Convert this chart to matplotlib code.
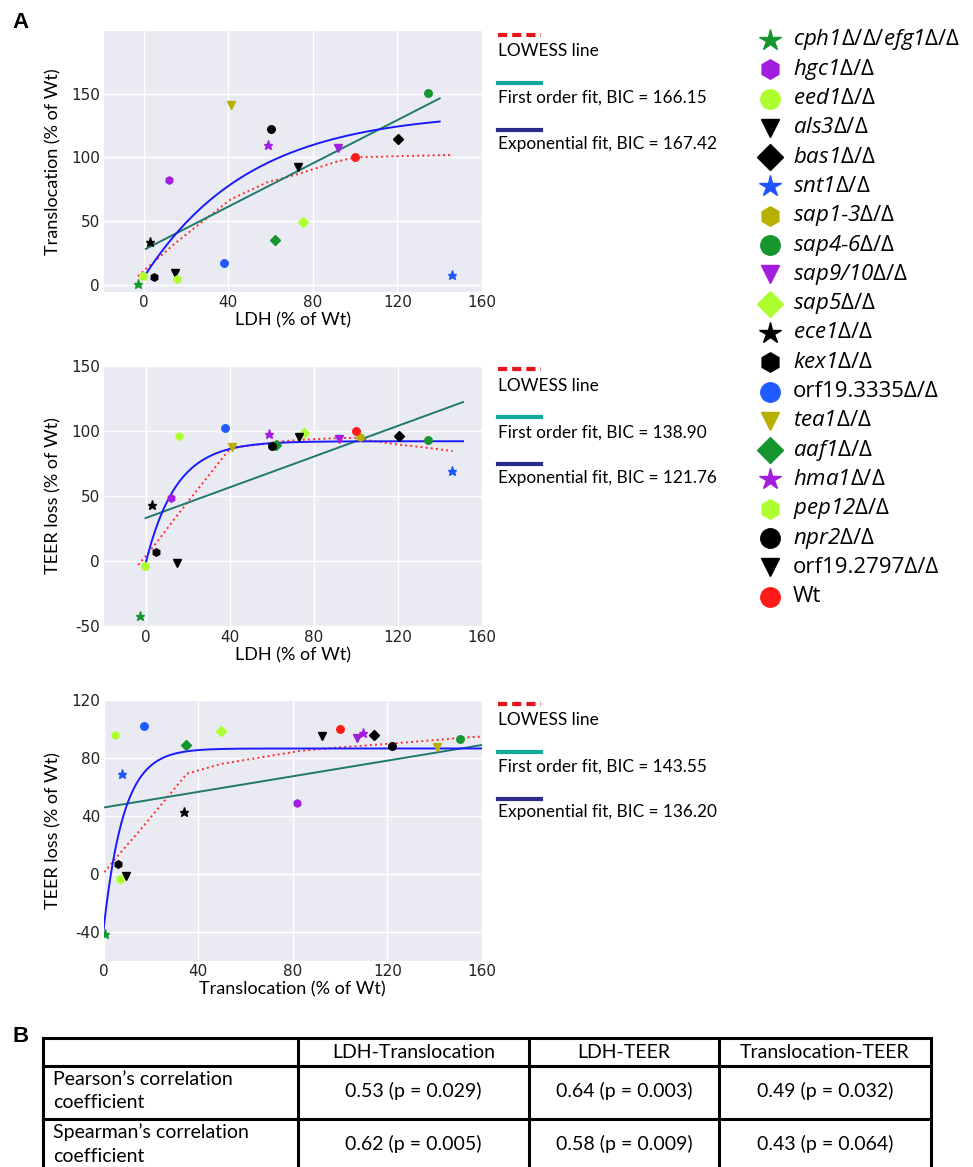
import numpy as np
import matplotlib
matplotlib.use('Agg')
import matplotlib.pyplot as plt
from matplotlib.lines import Line2D

plt.rcParams['font.family'] = ['Lato', 'DejaVu Sans']
plt.rcParams['axes.unicode_minus'] = False
plt.rcParams['mathtext.fontset'] = 'custom'
plt.rcParams['mathtext.rm'] = 'Open Sans'
plt.rcParams['mathtext.sf'] = 'Open Sans:italic'
plt.rcParams['mathtext.it'] = 'Open Sans:italic'

# strains and their measurements (% of Wt)
strain_labels = [
    r'$\mathsf{cph1}$Δ/Δ/$\mathsf{efg1}$Δ/Δ', r'$\mathsf{hgc1}$Δ/Δ', r'$\mathsf{eed1}$Δ/Δ',
    r'$\mathsf{als3}$Δ/Δ', r'$\mathsf{bas1}$Δ/Δ', r'$\mathsf{snt1}$Δ/Δ', r'$\mathsf{sap1‐3}$Δ/Δ',
    r'$\mathsf{sap4‐6}$Δ/Δ', r'$\mathsf{sap9/10}$Δ/Δ', r'$\mathsf{sap5}$Δ/Δ',
    r'$\mathsf{ece1}$Δ/Δ', r'$\mathsf{kex1}$Δ/Δ', 'orf19.3335Δ/Δ', r'$\mathsf{tea1}$Δ/Δ',
    r'$\mathsf{aaf1}$Δ/Δ', r'$\mathsf{hma1}$Δ/Δ', r'$\mathsf{pep12}$Δ/Δ', r'$\mathsf{npr2}$Δ/Δ',
    'orf19.2797Δ/Δ', 'Wt']
ldh = [-2.7, 12.0, -0.5, 15.0, 120.5, 145.8, 102.0, 134.4, 92.0, 75.4,
       3.2, 4.9, 38.0, 41.3, 62.0, 58.8, 15.8, 60.2, 73.2, 100.0]
translocation = [0.5, 82.0, 7.0, 9.4, 114.5, 8.0, 210.0, 150.5, 107.0, 49.5,
                 34.0, 6.0, 17.3, 140.8, 35.0, 109.5, 5.0, 122.0, 92.5, 100.0]
teer = [-42.0, 48.5, -3.8, -1.8, 96.0, 69.0, 95.0, 93.3, 94.0, 98.3,
        42.8, 7.0, 102.0, 87.3, 89.0, 97.3, 96.0, 88.0, 95.0, 100.0]

# style per strain
markers = ['*', 'h', 'o', 'v', 'D', '*', 'h', 'o', 'v', 'D',
           '*', 'h', 'o', 'v', 'D', '*', 'h', 'o', 'v', 'o']
colors = ['#16962f', '#a21de0', '#adff2f', 'black', 'black', '#1f55ff', '#b8b000', '#16962f',
          '#a21de0', '#adff2f', 'black', 'black', '#1f5bff', '#b8b000', '#16962f', '#a21de0',
          '#adff2f', 'black', 'black', '#ff1a1a']

# LOWESS curves
low1_x = [-2.7, 15, 38, 41, 59, 62, 73, 92, 100, 121, 134, 146]
low1_y = [7, 33, 63, 67, 81, 82, 87, 97, 100, 101, 101.5, 102]
low2_x = [-3.5, 3, 11, 15, 38, 41, 59, 62, 73, 92, 100, 102, 120, 134, 146]
low2_y = [-3, 9.5, 26.5, 35, 82, 87, 90.5, 91.5, 93, 94.5, 94.5, 93.5, 89.5, 87, 84.5]
low3_x = [0.3, 8, 17.5, 35.2, 49.6, 83, 100, 122.6, 141.6, 152, 165]
low3_y = [1, 16, 34, 69, 75.8, 84.8, 87.3, 90, 92.5, 94, 95.2]

# first order fits (intercept, slope, x range) and exponential fits a - b*exp(-c x)
lin_fits = [(27.5, 0.848, (1, 140)), (33.0, 0.59, (0, 151)), (45.7, 0.27, (0, 160))]
exp_fits = [(136, 130, 0.02, (1, 140)), (92, 94, 0.069, (0, 151)), (86.5, 125.5, 0.118, (0, 160))]
bic_linear = ['166.15', '138.90', '143.55']
bic_exp = ['167.42', '121.76', '136.20']

# table B
table_cols = ['', 'LDH-Translocation', 'LDH-TEER', 'Translocation-TEER']
table_rows = ['Pearson’s correlation\ncoefficient', 'Spearman’s correlation\ncoefficient']
table_vals = [['0.53 (p = 0.029)', '0.64 (p = 0.003)', '0.49 (p = 0.032)'],
              ['0.62 (p = 0.005)', '0.58 (p = 0.009)', '0.43 (p = 0.064)']]

W, H = 973, 1167
fig = plt.figure(figsize=(W / 100, H / 100), dpi=100)


def fx(x):
    return x / W


def fy(y):
    return 1 - y / H


data_ms = {'o': 5.4, 'h': 5.4, '*': 6.5, 'v': 5.8, 'D': 5.2}
leg_ms = {'o': 14, 'h': 14, '*': 16, 'v': 13, 'D': 13}

panels = [
    dict(top=31, x=ldh, y=translocation, xlim=(-19, 160), ylim=(-5, 199),
         yticks=[0, 50, 100, 150], xlabel='LDH (% of Wt)', ylabel='Translocation (% of Wt)',
         lx=low1_x, ly=low1_y),
    dict(top=365.7, x=ldh, y=teer, xlim=(-20, 160), ylim=(-50, 150),
         yticks=[-50, 0, 50, 100, 150], xlabel='LDH (% of Wt)', ylabel='TEER loss (% of Wt)',
         lx=low2_x, ly=low2_y),
    dict(top=700, x=translocation, y=teer, xlim=(0, 160), ylim=(-60, 120),
         yticks=[-40, 0, 40, 80, 120], xlabel='Translocation (% of Wt)', ylabel='TEER loss (% of Wt)',
         lx=low3_x, ly=low3_y),
]

for i, p in enumerate(panels):
    ax = fig.add_axes([fx(103.5), fy(p['top'] + 260.5), fx(378.5), 260.5 / H])
    ax.set_facecolor('#eaeaf2')
    for s in ax.spines.values():
        s.set_visible(False)
    ax.grid(True, color='white', lw=1.0)
    ax.set_axisbelow(True)
    ax.tick_params(length=0, labelsize=11, colors='#222222', pad=2.5)

    ax.plot(p['lx'], p['ly'], ':', color='#ff2a2a', lw=1.4, zorder=2)
    b0, m, (x0, x1) = lin_fits[i]
    xs = np.linspace(x0, x1, 50)
    ax.plot(xs, b0 + m * xs, color='#21786c', lw=1.4, zorder=2)
    a, b, c, (x0, x1) = exp_fits[i]
    xs = np.linspace(x0, x1, 300)
    ax.plot(xs, a - b * np.exp(-c * xs), color='#1a1aff', lw=1.4, zorder=2)

    for xv, yv, mk, col in zip(p['x'], p['y'], markers, colors):
        ax.plot(xv, yv, marker=mk, color=col, ms=data_ms[mk], ls='none', zorder=3)

    ax.set_xlim(p['xlim'])
    ax.set_ylim(p['ylim'])
    ax.set_xticks([0, 40, 80, 120, 160])
    ax.set_yticks(p['yticks'])
    for lab in ax.get_xticklabels() + ax.get_yticklabels():
        lab.set_family('DejaVu Sans')
    ax.set_xlabel(p['xlabel'], fontsize=13, labelpad=2)
    ax.set_ylabel(p['ylabel'], fontsize=13, labelpad=7)

    # fit legend to the right of the panel
    t = p['top']
    fig.add_artist(Line2D([fx(498), fx(541)], [fy(t + 3.5)] * 2, color='#e8141c', lw=3,
                          dashes=(2.2, 1.2), transform=fig.transFigure))
    fig.text(fx(498), fy(t + 20), 'LOWESS line', fontsize=12.4, va='center')
    fig.add_artist(Line2D([fx(498), fx(541)], [fy(t + 51.5)] * 2, color='#14a89a', lw=3,
                          transform=fig.transFigure))
    fig.text(fx(498), fy(t + 66.5), 'First order fit, BIC = ' + bic_linear[i], fontsize=12.4, va='center')
    fig.add_artist(Line2D([fx(498), fx(541)], [fy(t + 98.5)] * 2, color='#2b2b8c', lw=3,
                          transform=fig.transFigure))
    fig.text(fx(498), fy(t + 112.5), 'Exponential fit, BIC = ' + bic_exp[i], fontsize=12.4, va='center')

# strain legend
for k, (lab, mk, col) in enumerate(zip(strain_labels, markers, colors)):
    yk = 40 + k * 29.3
    fig.add_artist(Line2D([fx(770)], [fy(yk)], marker=mk, color=col, ms=leg_ms[mk],
                          ls='none', transform=fig.transFigure))
    fig.text(fx(793), fy(yk), lab, fontsize=16, va='center', family='Open Sans')

fig.text(fx(12), fy(22), 'A', fontsize=16, fontweight='bold', family='Liberation Sans', va='center')
fig.text(fx(12), fy(1037), 'B', fontsize=16, fontweight='bold', family='Liberation Sans', va='center')

# table
col_x = [42.7, 297.7, 529, 718.7, 930.7]
row_y = [1038.3, 1065.7, 1119.3, 1173]
for yv in row_y[:3]:
    fig.add_artist(Line2D([fx(col_x[0]), fx(col_x[-1])], [fy(yv)] * 2, color='black', lw=2.2,
                          transform=fig.transFigure))
for xv in col_x:
    fig.add_artist(Line2D([fx(xv)] * 2, [fy(row_y[0]), fy(row_y[-1])], color='black', lw=2.2,
                          transform=fig.transFigure))
for j in range(1, 4):
    cx = (col_x[j] + col_x[j + 1]) / 2
    fig.text(fx(cx), fy((row_y[0] + row_y[1]) / 2), table_cols[j], fontsize=14, ha='center', va='center')
row_centers = [1091, 1144]
for r in range(2):
    cy = row_centers[r]
    fig.text(fx(53), fy(cy), table_rows[r], fontsize=14, ha='left', va='center', linespacing=1.45)
    for j in range(3):
        cx = (col_x[j + 1] + col_x[j + 2]) / 2
        fig.text(fx(cx), fy(cy), table_vals[r][j], fontsize=14, ha='center', va='center')

fig.savefig('out.png', dpi=100)
